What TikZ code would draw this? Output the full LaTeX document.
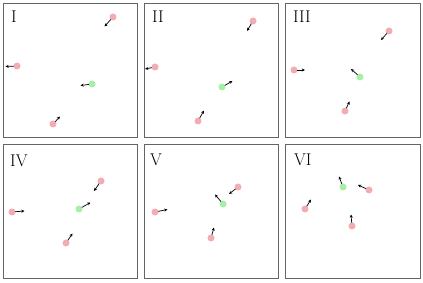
\documentclass[tikz,border=0pt]{standalone}
\usetikzlibrary{arrows.meta}
\definecolor{dotpink}{RGB}{242,172,178}
\definecolor{dotgreen}{RGB}{165,240,165}
\definecolor{framegray}{RGB}{100,100,100}
\tikzset{
  panel/.style={draw=framegray, line width=1pt},
  pinkdot/.style={circle, fill=dotpink, inner sep=0pt, minimum size=7pt},
  greendot/.style={circle, fill=dotgreen, inner sep=0pt, minimum size=7pt},
  vec/.style={-{Stealth[length=3.2pt,width=3pt]}, line width=0.7pt, black, shorten <=-0.5pt},
  lab/.style={anchor=west, inner sep=0pt, font=\fontsize{17}{20}\selectfont}
}
\begin{document}
\begin{tikzpicture}[x=1pt,y=-1pt]
\useasboundingbox (0,0) rectangle (423,283);
% panels
\draw[panel] (3,4) rectangle (137,138);
\draw[panel] (144,4) rectangle (278,138);
\draw[panel] (285,4) rectangle (420,138);
\draw[panel] (3,145) rectangle (137,278);
\draw[panel] (144,145) rectangle (278,278);
\draw[panel] (285,145) rectangle (420,278);
% labels
\node[lab] (l1) at (11,17) {I};
\node[lab] (l2) at (152,17) {II};
\node[lab] (l3) at (293,17) {III};
\node[lab] (l4) at (10,161) {IV};
\node[lab] (l5) at (150,160) {V};
\node[lab] (l6) at (294,160) {VI};
% Panel I
\node[pinkdot] (a1) at (113,17) {}; \coordinate (a1t) at (104.5,26.5);
\node[pinkdot] (a2) at (17,66) {};  \coordinate (a2t) at (5.5,66.5);
\node[greendot] (a3) at (92,84) {}; \coordinate (a3t) at (80.5,85.5);
\node[pinkdot] (a4) at (53,124) {}; \coordinate (a4t) at (60,116.5);
\foreach \n in {a1,a2,a3,a4} \draw[vec] (\n) -- (\n t);
% Panel II
\node[pinkdot] (b1) at (253,21) {}; \coordinate (b1t) at (247,31);
\node[pinkdot] (b2) at (155,67) {}; \coordinate (b2t) at (145,69);
\node[greendot] (b3) at (222,87) {}; \coordinate (b3t) at (232.5,81);
\node[pinkdot] (b4) at (198,121) {}; \coordinate (b4t) at (204,110.5);
\foreach \n in {b1,b2,b3,b4} \draw[vec] (\n) -- (\n t);
% Panel III
\node[pinkdot] (c1) at (389,31) {}; \coordinate (c1t) at (381,40);
\node[pinkdot] (c2) at (294,70) {}; \coordinate (c2t) at (305,70);
\node[greendot] (c3) at (360,77) {}; \coordinate (c3t) at (351,69);
\node[pinkdot] (c4) at (345,111) {}; \coordinate (c4t) at (349.5,101.5);
\foreach \n in {c1,c2,c3,c4} \draw[vec] (\n) -- (\n t);
% Panel IV
\node[pinkdot] (d1) at (101,181) {}; \coordinate (d1t) at (94,191);
\node[pinkdot] (d2) at (12,212) {}; \coordinate (d2t) at (24.5,211);
\node[greendot] (d3) at (79,209) {}; \coordinate (d3t) at (90.5,202.5);
\node[pinkdot] (d4) at (66,243) {}; \coordinate (d4t) at (72.5,233.5);
\foreach \n in {d1,d2,d3,d4} \draw[vec] (\n) -- (\n t);
% Panel V
\node[pinkdot] (e1) at (238,187) {}; \coordinate (e1t) at (229,194);
\node[pinkdot] (e2) at (155,212) {}; \coordinate (e2t) at (167.5,209.5);
\node[greendot] (e3) at (223,204) {}; \coordinate (e3t) at (215,194.5);
\node[pinkdot] (e4) at (211,238) {}; \coordinate (e4t) at (214,227.5);
\foreach \n in {e1,e2,e3,e4} \draw[vec] (\n) -- (\n t);
% Panel VI
\node[greendot] (f1) at (343,187) {}; \coordinate (f1t) at (339,176.5);
\node[pinkdot] (f2) at (369,190) {}; \coordinate (f2t) at (358,185);
\node[pinkdot] (f3) at (305,209) {}; \coordinate (f3t) at (311,199.5);
\node[pinkdot] (f4) at (352,226) {}; \coordinate (f4t) at (351,214.5);
\foreach \n in {f1,f2,f3,f4} \draw[vec] (\n) -- (\n t);
\end{tikzpicture}
\end{document}
